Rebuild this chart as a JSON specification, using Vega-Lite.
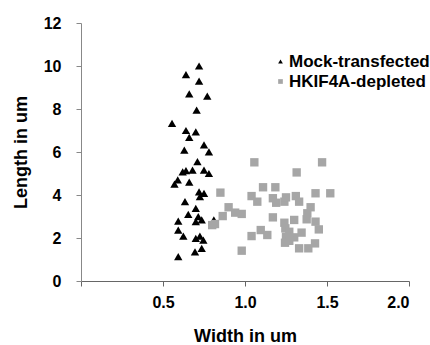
{
  "$schema": "https://vega.github.io/schema/vega-lite/v6.json",
  "width": 328,
  "height": 258,
  "autosize": "none",
  "padding": {"left": 81, "top": 23, "right": 21, "bottom": 64},
  "background": "white",
  "config": {
    "view": {"stroke": null},
    "font": "Liberation Sans"
  },
  "data": {
    "values": [
      {"group": "Mock-transfected", "w": 0.72, "l": 10.0},
      {"group": "Mock-transfected", "w": 0.64, "l": 9.6},
      {"group": "Mock-transfected", "w": 0.72, "l": 9.3},
      {"group": "Mock-transfected", "w": 0.66, "l": 8.7},
      {"group": "Mock-transfected", "w": 0.77, "l": 8.6},
      {"group": "Mock-transfected", "w": 0.705, "l": 7.95},
      {"group": "Mock-transfected", "w": 0.555, "l": 7.33},
      {"group": "Mock-transfected", "w": 0.64, "l": 7.0},
      {"group": "Mock-transfected", "w": 0.70, "l": 6.94},
      {"group": "Mock-transfected", "w": 0.66, "l": 6.68},
      {"group": "Mock-transfected", "w": 0.75, "l": 6.33},
      {"group": "Mock-transfected", "w": 0.78, "l": 6.01},
      {"group": "Mock-transfected", "w": 0.63, "l": 6.09},
      {"group": "Mock-transfected", "w": 0.71, "l": 5.55},
      {"group": "Mock-transfected", "w": 0.64, "l": 5.13},
      {"group": "Mock-transfected", "w": 0.68, "l": 5.16},
      {"group": "Mock-transfected", "w": 0.75, "l": 5.16},
      {"group": "Mock-transfected", "w": 0.78, "l": 5.0},
      {"group": "Mock-transfected", "w": 0.62, "l": 5.08},
      {"group": "Mock-transfected", "w": 0.59, "l": 4.7},
      {"group": "Mock-transfected", "w": 0.57, "l": 4.51},
      {"group": "Mock-transfected", "w": 0.66, "l": 4.6},
      {"group": "Mock-transfected", "w": 0.72, "l": 4.15},
      {"group": "Mock-transfected", "w": 0.75, "l": 4.08},
      {"group": "Mock-transfected", "w": 0.725, "l": 3.92},
      {"group": "Mock-transfected", "w": 0.634, "l": 3.69},
      {"group": "Mock-transfected", "w": 0.70, "l": 3.38},
      {"group": "Mock-transfected", "w": 0.654, "l": 3.1},
      {"group": "Mock-transfected", "w": 0.715, "l": 2.99},
      {"group": "Mock-transfected", "w": 0.736, "l": 2.84},
      {"group": "Mock-transfected", "w": 0.70, "l": 2.76},
      {"group": "Mock-transfected", "w": 0.593, "l": 2.79},
      {"group": "Mock-transfected", "w": 0.81, "l": 2.84},
      {"group": "Mock-transfected", "w": 0.593, "l": 2.37},
      {"group": "Mock-transfected", "w": 0.624, "l": 2.09},
      {"group": "Mock-transfected", "w": 0.70, "l": 1.98},
      {"group": "Mock-transfected", "w": 0.725, "l": 2.09},
      {"group": "Mock-transfected", "w": 0.746, "l": 1.9},
      {"group": "Mock-transfected", "w": 0.736, "l": 1.52},
      {"group": "Mock-transfected", "w": 0.695, "l": 1.36},
      {"group": "Mock-transfected", "w": 0.593, "l": 1.13},
      {"group": "HKIF4A-depleted", "w": 1.057, "l": 5.52},
      {"group": "HKIF4A-depleted", "w": 1.47, "l": 5.52},
      {"group": "HKIF4A-depleted", "w": 1.315, "l": 5.05},
      {"group": "HKIF4A-depleted", "w": 1.11, "l": 4.36},
      {"group": "HKIF4A-depleted", "w": 1.185, "l": 4.36},
      {"group": "HKIF4A-depleted", "w": 0.85, "l": 4.11},
      {"group": "HKIF4A-depleted", "w": 1.04, "l": 3.95},
      {"group": "HKIF4A-depleted", "w": 1.075, "l": 3.69},
      {"group": "HKIF4A-depleted", "w": 1.17, "l": 3.85},
      {"group": "HKIF4A-depleted", "w": 1.19, "l": 3.64},
      {"group": "HKIF4A-depleted", "w": 1.24, "l": 3.69},
      {"group": "HKIF4A-depleted", "w": 1.25, "l": 3.89},
      {"group": "HKIF4A-depleted", "w": 1.31, "l": 3.95},
      {"group": "HKIF4A-depleted", "w": 1.33, "l": 3.69},
      {"group": "HKIF4A-depleted", "w": 1.43, "l": 4.08},
      {"group": "HKIF4A-depleted", "w": 1.52, "l": 4.08},
      {"group": "HKIF4A-depleted", "w": 0.90, "l": 3.43},
      {"group": "HKIF4A-depleted", "w": 0.94, "l": 3.18},
      {"group": "HKIF4A-depleted", "w": 0.98, "l": 3.12},
      {"group": "HKIF4A-depleted", "w": 0.864, "l": 3.02},
      {"group": "HKIF4A-depleted", "w": 0.817, "l": 2.65},
      {"group": "HKIF4A-depleted", "w": 0.80, "l": 2.6},
      {"group": "HKIF4A-depleted", "w": 1.17, "l": 2.96},
      {"group": "HKIF4A-depleted", "w": 1.40, "l": 3.43},
      {"group": "HKIF4A-depleted", "w": 1.38, "l": 3.15},
      {"group": "HKIF4A-depleted", "w": 1.376, "l": 2.87},
      {"group": "HKIF4A-depleted", "w": 1.30, "l": 2.84},
      {"group": "HKIF4A-depleted", "w": 1.24, "l": 2.71},
      {"group": "HKIF4A-depleted", "w": 1.43, "l": 2.76},
      {"group": "HKIF4A-depleted", "w": 1.246, "l": 2.45},
      {"group": "HKIF4A-depleted", "w": 1.45, "l": 2.40},
      {"group": "HKIF4A-depleted", "w": 1.096, "l": 2.37},
      {"group": "HKIF4A-depleted", "w": 1.136, "l": 2.14},
      {"group": "HKIF4A-depleted", "w": 1.04, "l": 2.09},
      {"group": "HKIF4A-depleted", "w": 1.27, "l": 2.29},
      {"group": "HKIF4A-depleted", "w": 1.345, "l": 2.25},
      {"group": "HKIF4A-depleted", "w": 1.25, "l": 2.06},
      {"group": "HKIF4A-depleted", "w": 1.30, "l": 2.03},
      {"group": "HKIF4A-depleted", "w": 1.27, "l": 1.87},
      {"group": "HKIF4A-depleted", "w": 1.244, "l": 1.78},
      {"group": "HKIF4A-depleted", "w": 1.427, "l": 1.75},
      {"group": "HKIF4A-depleted", "w": 1.33, "l": 1.52},
      {"group": "HKIF4A-depleted", "w": 1.386, "l": 1.52},
      {"group": "HKIF4A-depleted", "w": 0.98, "l": 1.41}
    ]
  },
  "mark": {"type": "point", "filled": true, "opacity": 1, "size": 70},
  "encoding": {
    "x": {
      "field": "w", "type": "quantitative",
      "scale": {"domain": [0, 2], "nice": false, "zero": false},
      "axis": {
        "values": [0, 0.5, 1, 1.5, 2],
        "labelExpr": "datum.value == 0 ? '' : format(datum.value, '.1f')",
        "grid": false,
        "title": "Width in um",
        "titleFont": "Liberation Sans", "titleFontSize": 18, "titleFontWeight": "bold", "titleColor": "#000",
        "titlePadding": 17,
        "labelFont": "Liberation Sans", "labelFontSize": 16, "labelFontWeight": "bold", "labelColor": "#000",
        "labelPadding": 8,
        "domainColor": "#666", "tickColor": "#666", "tickSize": 5
      }
    },
    "y": {
      "field": "l", "type": "quantitative",
      "scale": {"domain": [0, 12], "nice": false},
      "axis": {
        "values": [0, 2, 4, 6, 8, 10, 12],
        "grid": false,
        "title": "Length in um",
        "titleFont": "Liberation Sans", "titleFontSize": 18, "titleFontWeight": "bold", "titleColor": "#000",
        "titlePadding": 13,
        "labelFont": "Liberation Sans", "labelFontSize": 16, "labelFontWeight": "bold", "labelColor": "#000",
        "labelPadding": 15,
        "domainColor": "#888", "tickColor": "#888", "tickSize": 5
      }
    },
    "shape": {
      "field": "group", "type": "nominal",
      "scale": {"domain": ["Mock-transfected", "HKIF4A-depleted"], "range": ["triangle-up", "square"]},
      "legend": {
        "title": null, "orient": "none", "legendX": 191, "legendY": 30,
        "labelFont": "Liberation Sans", "labelFontSize": 17, "labelFontWeight": "bold", "labelColor": "#000",
        "symbolSize": 22, "labelOffset": 0, "rowPadding": 2
      }
    },
    "color": {
      "field": "group", "type": "nominal",
      "scale": {"domain": ["Mock-transfected", "HKIF4A-depleted"], "range": ["#000000", "#a6a6a6"]},
      "legend": {
        "title": null, "orient": "none", "legendX": 191, "legendY": 30,
        "labelFont": "Liberation Sans", "labelFontSize": 17, "labelFontWeight": "bold", "labelColor": "#000",
        "symbolSize": 22, "labelOffset": 0, "rowPadding": 2
      }
    }
  }
}
